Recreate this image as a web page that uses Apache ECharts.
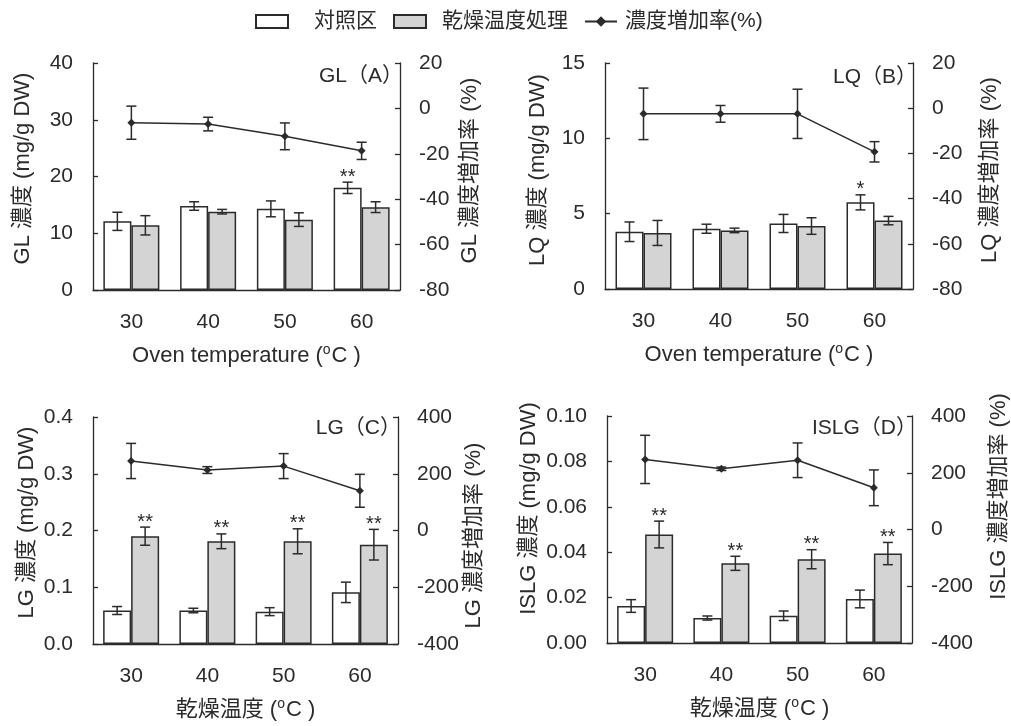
<!DOCTYPE html>
<html>
<head>
<meta charset="utf-8">
<script src="https://cdn.jsdelivr.net/npm/echarts@6/dist/echarts.min.js"></script>
<style>
html,body{margin:0;padding:0;background:#fff;}
#main{width:1011px;height:726px;}
</style>
</head>
<body>
<div id="main"></div>
<script>
// ---------- data ----------
const categories = ['30', '40', '50', '60'];
const seriesNames = ['対照区', '乾燥温度処理', '濃度増加率(%)'];

const glControl = [12.1, 14.8, 14.3, 18.0];
const glControlErr = [1.6, 0.75, 1.4, 1.0];
const glTreat = [11.4, 13.8, 12.4, 14.6];
const glTreatErr = [1.7, 0.4, 1.2, 0.95];
const glRate = [-6.3, -6.9, -12.3, -18.7];
const glRateErr = [7.3, 3.0, 5.9, 3.8];
const glSigControl = ['', '', '', '**'];
const glSigTreat = ['', '', '', ''];

const lqControl = [3.8, 4.0, 4.35, 5.75];
const lqControlErr = [0.65, 0.3, 0.6, 0.5];
const lqTreat = [3.72, 3.89, 4.18, 4.54];
const lqTreatErr = [0.83, 0.15, 0.55, 0.28];
const lqRate = [-2.5, -2.5, -2.5, -19.3];
const lqRateErr = [11.4, 3.7, 10.9, 4.5];
const lqSigControl = ['', '', '', '*'];
const lqSigTreat = ['', '', '', ''];

const lgControl = [0.059, 0.059, 0.057, 0.091];
const lgControlErr = [0.007, 0.004, 0.007, 0.018];
const lgTreat = [0.190, 0.181, 0.181, 0.175];
const lgTreatErr = [0.016, 0.013, 0.022, 0.027];
const lgRate = [245, 213, 227, 140];
const lgRateErr = [62, 12, 44, 58];
const lgSigControl = ['', '', '', ''];
const lgSigTreat = ['**', '**', '**', '**'];

const islgControl = [0.0163, 0.011, 0.012, 0.0194];
const islgControlErr = [0.0028, 0.0009, 0.0021, 0.0039];
const islgTreat = [0.0478, 0.0351, 0.0369, 0.0394];
const islgTreatErr = [0.0059, 0.0031, 0.0042, 0.0049];
const islgRate = [247, 214, 244, 147];
const islgRateErr = [85, 6, 61, 63];
const islgSigControl = ['', '', '', ''];
const islgSigTreat = ['**', '**', '**', '**'];

const panelTitles = ['GL（A）', 'LQ（B）', 'LG（C）', 'ISLG（D）'];
const leftNames = ['GL 濃度 (mg/g DW)', 'LQ 濃度 (mg/g DW)', 'LG 濃度 (mg/g DW)', 'ISLG 濃度 (mg/g DW)'];
const rightNames = ['GL 濃度増加率 (%)', 'LQ 濃度増加率 (%)', 'LG 濃度増加率 (%)', 'ISLG 濃度増加率 (%)'];
const xNameTop = 'Oven temperature (';
const xNameBottom = '乾燥温度 (';
const leftTicks = [[0, 40, 10], [0, 15, 5], [0, 0.4, 0.1], [0, 0.1, 0.02]];
const rightTicks = [[-80, 20, 20], [-80, 20, 20], [-400, 400, 200], [-400, 400, 200]];
const leftDecimals = [0, 0, 1, 2];

// ---------- layout ----------
const FONT = '"Liberation Sans", "Noto Sans CJK JP", sans-serif';
const INK = '#2b2b2b';
const grids = [
  {left: 93, top: 63, width: 307, height: 227},
  {left: 605, top: 63, width: 308, height: 226},
  {left: 93, top: 417, width: 305, height: 227},
  {left: 607, top: 416, width: 306, height: 227}
];
const leftGap = [59, 56, 55, 67];
const rightGap = [59, 66, 61, 76];
// vertical shift (px, positive = up) of axis names
const leftShift = [8, 6, 8, 21];
const rightShift = [6, 6, -5, 33];
const titlePos = [[403, 76], [917, 77], [401, 428], [917, 428]];

const panels = [
  [glControl, glControlErr, glTreat, glTreatErr, glRate, glRateErr, glSigControl, glSigTreat],
  [lqControl, lqControlErr, lqTreat, lqTreatErr, lqRate, lqRateErr, lqSigControl, lqSigTreat],
  [lgControl, lgControlErr, lgTreat, lgTreatErr, lgRate, lgRateErr, lgSigControl, lgSigTreat],
  [islgControl, islgControlErr, islgTreat, islgTreatErr, islgRate, islgRateErr, islgSigControl, islgSigTreat]
];

function shiftPad(d) {
  return d >= 0 ? [0, 0, 0, 2 * d] : [0, -2 * d, 0, 0];
}

function errSeries(name, xi, yi, vals, errs, sigs, offset, z) {
  return {
    type: 'custom', name: name, xAxisIndex: xi, yAxisIndex: yi, z: z,
    silent: true,
    data: vals.map((v, i) => [i, v, errs[i]]),
    renderItem: function (params, api) {
      const i = api.value(0), v = api.value(1), e = api.value(2);
      const hi = api.coord([i, v + e]);
      const lo = api.coord([i, v - e]);
      const x = hi[0] + offset;
      const c = 5;
      const st = {stroke: INK, lineWidth: 1.5};
      const children = [
        {type: 'line', shape: {x1: x, y1: hi[1], x2: x, y2: lo[1]}, style: st},
        {type: 'line', shape: {x1: x - c, y1: hi[1], x2: x + c, y2: hi[1]}, style: st},
        {type: 'line', shape: {x1: x - c, y1: lo[1], x2: x + c, y2: lo[1]}, style: st}
      ];
      const s = sigs ? sigs[params.dataIndex] : '';
      if (s) {
        children.push({type: 'text', style: {text: s, x: x, y: hi[1] - 5, align: 'center', verticalAlign: 'middle',
          fill: INK, fontSize: 20, fontFamily: FONT}});
      }
      return {type: 'group', children: children};
    }
  };
}

const xAxes = [], yAxes = [], series = [], graphics = [];
panels.forEach((p, k) => {
  const [ctrl, ctrlE, trt, trtE, rate, rateE, sigC, sigT] = p;
  const isTop = k < 2;
  xAxes.push({
    type: 'category', gridIndex: k, data: categories,
    axisLine: {lineStyle: {color: INK, width: 1.3}},
    axisTick: {show: false},
    axisLabel: {color: INK, fontSize: 21, margin: 22, fontFamily: FONT},
    name: '{t|' + (isTop ? xNameTop : xNameBottom) + '}{s|o}{t|C )}',
    nameLocation: 'middle', nameGap: 53,
    nameTextStyle: {color: INK, fontFamily: FONT,
      rich: {t: {fontSize: 22, lineHeight: 26, color: INK, fontFamily: FONT},
             s: {fontSize: 14, lineHeight: 26, verticalAlign: 'top', color: INK, fontFamily: FONT, padding: [0, 1, 12, 0]}}}
  });
  const lt = leftTicks[k], rt = rightTicks[k], dec = leftDecimals[k];
  yAxes.push({
    type: 'value', gridIndex: k, position: 'left', min: lt[0], max: lt[1], interval: lt[2],
    axisLine: {show: true, lineStyle: {color: INK, width: 1.3}},
    axisTick: {show: true, inside: true, length: 5, lineStyle: {color: INK, width: 1.3}},
    splitLine: {show: false},
    axisLabel: {color: INK, fontSize: 21, margin: 20, fontFamily: FONT, formatter: v => v.toFixed(dec)},
    name: leftNames[k], nameLocation: 'middle', nameGap: leftGap[k], nameRotate: 90,
    nameTextStyle: {color: INK, fontSize: 22, fontFamily: FONT, padding: shiftPad(leftShift[k])}
  });
  yAxes.push({
    type: 'value', gridIndex: k, position: 'right', min: rt[0], max: rt[1], interval: rt[2],
    axisLine: {show: true, lineStyle: {color: INK, width: 1.3}},
    axisTick: {show: true, inside: true, length: 5, lineStyle: {color: INK, width: 1.3}},
    splitLine: {show: false},
    axisLabel: {color: INK, fontSize: 21, margin: 19, fontFamily: FONT},
    name: rightNames[k], nameLocation: 'middle', nameGap: rightGap[k], nameRotate: 90,
    nameTextStyle: {color: INK, fontSize: 22, fontFamily: FONT, padding: shiftPad(rightShift[k])}
  });
  const yl = 2 * k, yr = 2 * k + 1;
  series.push({
    type: 'bar', name: seriesNames[0], xAxisIndex: k, yAxisIndex: yl, data: ctrl,
    barWidth: 28, barGap: '0%', z: 2,
    itemStyle: {color: '#ffffff', borderColor: INK, borderWidth: 1.5}
  });
  series.push({
    type: 'bar', name: seriesNames[1], xAxisIndex: k, yAxisIndex: yl, data: trt,
    barWidth: 28, barGap: '0%', z: 2,
    itemStyle: {color: '#d4d4d4', borderColor: INK, borderWidth: 1.5}
  });
  series.push({
    type: 'line', name: seriesNames[2], xAxisIndex: k, yAxisIndex: yr, data: rate, z: 5,
    symbol: 'diamond', symbolSize: 8,
    lineStyle: {color: INK, width: 1.5}, itemStyle: {color: INK}
  });
  series.push(errSeries(seriesNames[0], k, yl, ctrl, ctrlE, sigC, -14, 3));
  series.push(errSeries(seriesNames[1], k, yl, trt, trtE, sigT, 14, 3));
  series.push(errSeries(seriesNames[2], k, yr, rate, rateE, null, 0, 6));
  graphics.push({type: 'text', x: titlePos[k][0], y: titlePos[k][1],
    style: {text: panelTitles[k], align: 'right', verticalAlign: 'middle', fill: INK, fontSize: 21, fontFamily: FONT}});
});

const chart = echarts.init(document.getElementById('main'), null, {renderer: 'canvas'});
chart.setOption({
  backgroundColor: '#ffffff',
  animation: false,
  legend: {
    top: 6, left: 250, itemGap: 16, itemWidth: 32, itemHeight: 13,
    textStyle: {color: INK, fontSize: 21, fontFamily: FONT},
    data: [
      {name: seriesNames[0], icon: 'rect', textStyle: {padding: [0, 0, 0, 21]}},
      {name: seriesNames[1], icon: 'rect', textStyle: {padding: [0, 10, 0, 11]}},
      {name: seriesNames[2], textStyle: {padding: [0, 0, 0, 3]}}
    ]
  },
  grid: grids,
  xAxis: xAxes,
  yAxis: yAxes,
  series: series,
  graphic: graphics
});
</script>
</body>
</html>
